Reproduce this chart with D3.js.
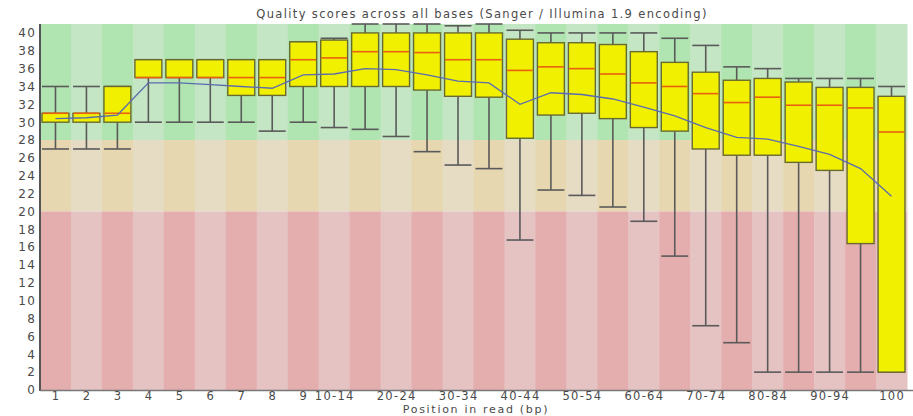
<!DOCTYPE html>
<html>
<head>
<meta charset="utf-8">
<script src="https://cdn.jsdelivr.net/npm/d3@7"></script>
<style>
  html, body { margin: 0; padding: 0; background: #fff; }
  svg { display: block; }
  text { font-family: "DejaVu Sans", sans-serif; fill: #4a4a4a; }
</style>
</head>
<body>
<svg id="chart" width="913" height="416"></svg>
<script>
const categories = ["1","2","3","4","5","6","7","8","9","10-14","15-19","20-24","25-29","30-34","35-39","40-44","45-49","50-54","55-59","60-64","65-69","70-74","75-79","80-84","85-89","90-94","95-99","100"];
const lowerWhisker = [27,27,27,30,30,30,30,29,30,29.4,29.2,28.4,26.7,25.2,24.8,16.8,22.4,21.8,20.5,18.9,15.0,7.2,5.3,2,2,2,2,2];
const q1           = [30,30,30,35,35,35,33,33,34,34,34,34,33.6,32.9,32.8,28.2,30.8,31.0,30.4,29.4,29.0,27.0,26.3,26.3,25.5,24.6,16.4,2];
const median       = [31,31,31,35,35,35,35,35,37,37.2,37.9,37.9,37.8,37.0,37.0,35.8,36.2,36.0,35.4,34.4,34.0,33.2,32.2,32.8,31.9,31.9,31.6,28.9];
const q3           = [31,31,34,37,37,37,37,37,39,39.2,40,40,40,40,40,39.3,38.9,38.9,38.7,37.9,36.7,35.6,34.7,34.9,34.5,33.9,33.9,32.9];
const upperWhisker = [34,34,34,37,37,37,37,37,39,39.4,41,41,41,40.8,41,40.3,40.0,40.0,40.0,40.0,39.4,38.6,36.2,36.0,34.9,34.9,34.9,34.0];
const meanLine     = [30.4,30.5,30.8,34.4,34.4,34.2,34.0,33.8,35.3,35.4,36.0,35.9,35.3,34.6,34.4,32.0,33.3,33.1,32.6,31.7,30.7,29.4,28.3,28.1,27.3,26.4,24.8,21.7];
const yTicks = d3.range(0, 41, 2);
const zones = [
  {from: 28, to: 41, dark: "rgb(176,228,176)", light: "rgb(196,230,196)"},
  {from: 20, to: 28, dark: "rgb(230,215,176)", light: "rgb(230,220,196)"},
  {from: 0,  to: 20, dark: "rgb(229,174,174)", light: "rgb(229,195,195)"}
];
const titleText = "Quality scores across all bases (Sanger / Illumina 1.9 encoding)";
const xTitle = "Position in read (bp)";

const svg = d3.select("#chart");
const mLeft = 40, mRight = 907, mTop = 24, mBottom = 390;

const x = d3.scaleBand().domain(categories).range([mLeft, mRight]).padding(0);
const y = d3.scaleLinear().domain([0, 41]).range([mBottom, mTop]);
const bw = x.bandwidth();

// background stripes
const bg = svg.append("g");
zones.forEach(z => {
  bg.selectAll(null).data(categories).enter().append("rect")
    .attr("x", d => x(d))
    .attr("width", bw + 0.5)
    .attr("y", y(z.to))
    .attr("height", y(z.from) - y(z.to))
    .attr("fill", (d, i) => i % 2 === 0 ? z.dark : z.light);
});

const data = categories.map((c, i) => ({c, lw: lowerWhisker[i], q1: q1[i], med: median[i], q3: q3[i], uw: upperWhisker[i], mean: meanLine[i]}));
const boxW = bw * 0.87;
const g = svg.append("g");
const items = g.selectAll("g.box").data(data).enter().append("g").attr("class", "box")
  .attr("transform", d => `translate(${x(d.c) + bw / 2},0)`);

items.append("line")
  .attr("x1", 0).attr("x2", 0)
  .attr("y1", d => y(d.lw)).attr("y2", d => y(d.uw))
  .attr("stroke", "#5a5a5a").attr("stroke-width", 1.6);
items.append("line")
  .attr("x1", -boxW / 2).attr("x2", boxW / 2)
  .attr("y1", d => y(d.lw)).attr("y2", d => y(d.lw))
  .attr("stroke", "#5a5a5a").attr("stroke-width", 1.6);
items.append("line")
  .attr("x1", -boxW / 2).attr("x2", boxW / 2)
  .attr("y1", d => y(d.uw)).attr("y2", d => y(d.uw))
  .attr("stroke", "#5a5a5a").attr("stroke-width", 1.6);
items.append("rect")
  .attr("x", -boxW / 2).attr("width", boxW)
  .attr("y", d => y(d.q3)).attr("height", d => y(d.q1) - y(d.q3))
  .attr("fill", "#f0f000").attr("stroke", "#6a6a30").attr("stroke-width", 1.4);
items.append("line")
  .attr("x1", -boxW / 2 + 0.7).attr("x2", boxW / 2 - 0.7)
  .attr("y1", d => y(d.med)).attr("y2", d => y(d.med))
  .attr("stroke", "#e86010").attr("stroke-width", 1.6);

// mean line
const line = d3.line().x(d => x(d.c) + bw / 2).y(d => y(d.mean));
svg.append("path").datum(data).attr("d", line)
  .attr("fill", "none").attr("stroke", "#5b6bb0").attr("stroke-width", 1.3);

// axes
svg.append("line").attr("x1", mLeft).attr("x2", mLeft).attr("y1", mTop).attr("y2", mBottom + 1)
  .attr("stroke", "#555").attr("stroke-width", 2);
svg.append("line").attr("x1", mLeft).attr("x2", 913).attr("y1", mBottom + 0.5).attr("y2", mBottom + 0.5)
  .attr("stroke", "#777").attr("stroke-width", 1.5);

svg.append("g").selectAll("text").data(yTicks).enter().append("text")
  .attr("x", 36.5).attr("y", d => y(d)).attr("dy", "0.36em")
  .attr("text-anchor", "end").attr("font-size", 12).attr("letter-spacing", 1.5).text(d => d);

svg.append("g").selectAll("text")
  .data(categories.filter((c, i) => i < 9 || (i - 9) % 2 === 0))
  .enter().append("text")
  .attr("x", d => x(d) + bw / 2 + 0.6).attr("y", 396).attr("dy", "0.36em")
  .attr("text-anchor", "middle").attr("font-size", 11.5).attr("letter-spacing", 1.3).text(d => d);

svg.append("text").attr("x", 482).attr("y", 14).attr("dy", "0.36em")
  .attr("text-anchor", "middle").attr("font-size", 11.5).attr("letter-spacing", 1.35).text(titleText);
svg.append("text").attr("x", 476).attr("y", 409.4).attr("dy", "0.36em")
  .attr("text-anchor", "middle").attr("font-size", 11).attr("letter-spacing", 1.7).text(xTitle);
</script>
</body>
</html>
